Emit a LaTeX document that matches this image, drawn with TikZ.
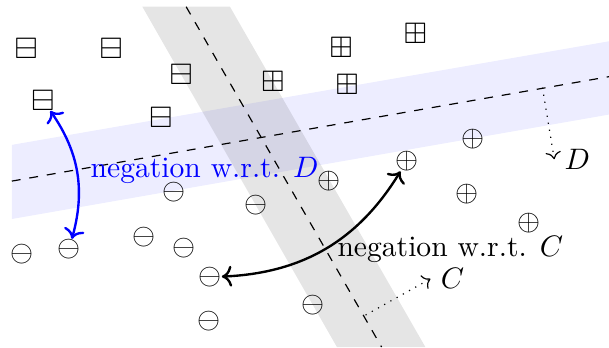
\documentclass[tikz,border=0pt]{standalone}
\usepackage{amsmath,amssymb}
\usepackage{xcolor}
\usepackage{tikz}
\usetikzlibrary{arrows.meta,positioning,calc}

\begin{document}
\begin{tikzpicture}[>={To}, x=1cm, y=1cm,
    sym/.style={inner sep=0pt}]
  \useasboundingbox (0,0) rectangle (7.23,4.12);
  % band around D (blue) and band around C (gray)
  \def\xl{0.14}      % left end of D band
  \def\xr{7.23}      % right end of D band
  \def\ytop{4.04}    % top end of C band
  \fill[blue, fill opacity=0.07] (\xl,2.40) -- (\xr,3.63) -- (\xr,2.76) -- (\xl,1.52) -- cycle;
  \fill[black, fill opacity=0.1] (1.69,\ytop) -- (2.73,\ytop) -- (5.05,0) -- (4.00,0) -- cycle;
  \draw[dashed] (\xl,1.97) -- (\xr,3.21);
  \draw[dashed] (2.21,\ytop) -- (4.53,0);
  % data points
  \foreach \x/\y [count=\i] in {0.31/3.54, 1.32/3.54, 2.15/3.24, 0.51/2.93, 1.91/2.73}
    \node[sym] (bm\i) at (\x,\y) {$\boxminus$};
  \foreach \x/\y [count=\i] in {4.05/3.56, 4.93/3.72, 3.24/3.15, 4.12/3.12}
    \node[sym] (bp\i) at (\x,\y) {$\boxplus$};
  \foreach \x/\y [count=\i] in {5.61/2.47, 5.55/1.82, 6.28/1.47, 4.83/2.21, 3.91/1.97}
    \node[sym] (op\i) at (\x,\y) {$\oplus$};
  \foreach \x/\y [count=\i] in {0.26/1.10, 0.82/1.16, 1.71/1.31, 2.07/1.84, 2.19/1.18,
                                3.04/1.68, 2.49/0.83, 2.48/0.31, 3.72/0.50}
    \node[sym] (om\i) at (\x,\y) {$\ominus$};
  % normals of the two separators
  \coordinate (Dfoot) at (6.44,3.08);
  \coordinate (Dtip) at (6.58,2.23);
  \coordinate (Cfoot) at (4.34,0.38);
  \coordinate (Ctip) at (5.11,0.81);
  \draw[dotted, ->] (Dfoot) -- (Dtip) node[right] {$D$};
  \draw[dotted, ->] (Cfoot) -- (Ctip) node[right] {$C$};
  % negations
  \draw[<->, thick, blue] (bm4) to[bend left=25] (om2);
  \draw[<->, thick] (om7) to[bend right=28] (op4);
  \node[blue, anchor=base west, inner sep=0pt] (negD) at (1.07,2.01) {negation w.r.t. $D$};
  \node[anchor=base west, inner sep=0pt] (negC) at (4.00,1.07) {negation w.r.t. $C$};
\end{tikzpicture}
\end{document}
